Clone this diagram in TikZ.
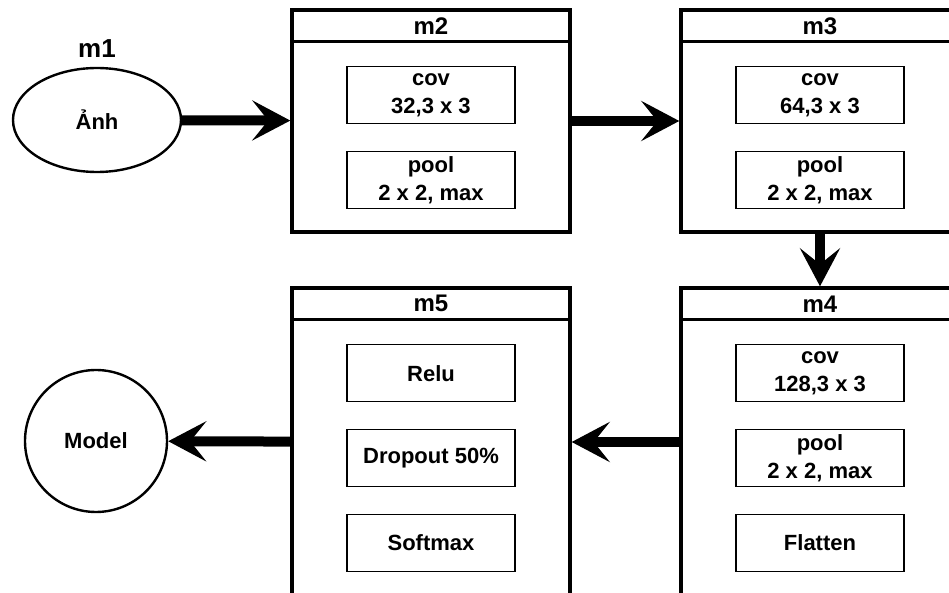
\documentclass[tikz,border=0pt]{standalone}
\usepackage{fontspec}
\setmainfont{Liberation Sans}
\usetikzlibrary{arrows.meta,positioning,shapes.geometric}
\tikzset{
  lane/.style={draw, line width=1.7pt, minimum width=139pt, inner sep=0pt},
  lanehead/.style={draw, line width=1.5pt, minimum width=139pt, minimum height=16pt, inner sep=0pt, font=\bfseries\fontsize{12}{14}\selectfont},
  layer/.style={draw, line width=0.6pt, minimum width=84pt, minimum height=28.5pt, inner sep=0pt, align=center, font=\bfseries\fontsize{11}{14}\selectfont},
  term/.style={draw, line width=1.2pt, inner sep=0pt, font=\bfseries\fontsize{11}{14}\selectfont},
  arr/.style={-{Stealth[length=19pt,width=20pt,inset=8pt]}, line width=5pt},
}
\begin{document}
\begin{tikzpicture}[x=0.5pt, y=-0.5pt, node distance=13.25pt]
  \clip (0,0) rectangle (949,593);
  \node[term, ellipse, minimum width=84pt, minimum height=52pt] (m1) at (97,120) {Ảnh};
  \node[font=\bfseries\fontsize{13}{15}\selectfont, above=1pt of m1] (m1t) {m1};
  \node[term, circle, minimum size=71pt] (model) at (96,441) {Model};

  \node[lane, minimum height=111pt] (m2) at (431,121) {};
  \node[lanehead, anchor=north] (m2t) at (m2.north) {m2};
  \node[layer, below=11.5pt of m2t] (cov2) {cov\\32,3 x 3};
  \node[layer, below=of cov2] (pool2) {pool\\2 x 2, max};

  \node[lane, minimum height=111pt] (m3) at (820,121) {};
  \node[lanehead, anchor=north] (m3t) at (m3.north) {m3};
  \node[layer, below=11.5pt of m3t] (cov3) {cov\\64,3 x 3};
  \node[layer, below=of cov3] (pool3) {pool\\2 x 2, max};

  \node[lane, minimum height=154pt] (m4) at (820,442) {};
  \node[lanehead, anchor=north] (m4t) at (m4.north) {m4};
  \node[layer, below=11.5pt of m4t] (cov4) {cov\\128,3 x 3};
  \node[layer, below=of cov4] (pool4) {pool\\2 x 2, max};
  \node[layer, below=of pool4] (flat4) {Flatten};

  \node[lane, minimum height=154pt] (m5) at (431,442) {};
  \node[lanehead, anchor=north] (m5t) at (m5.north) {m5};
  \node[layer, below=11.5pt of m5t] (relu5) {Relu};
  \node[layer, below=of relu5] (drop5) {Dropout 50\%};
  \node[layer, below=of drop5] (soft5) {Softmax};

  \draw[arr] (m1) -- (m2);
  \draw[arr] (m2) -- (m3);
  \draw[arr] (m3) -- (m4);
  \draw[arr] (m4) -- (m5);
  \draw[arr] (m5) -- (model);
\end{tikzpicture}
\end{document}
